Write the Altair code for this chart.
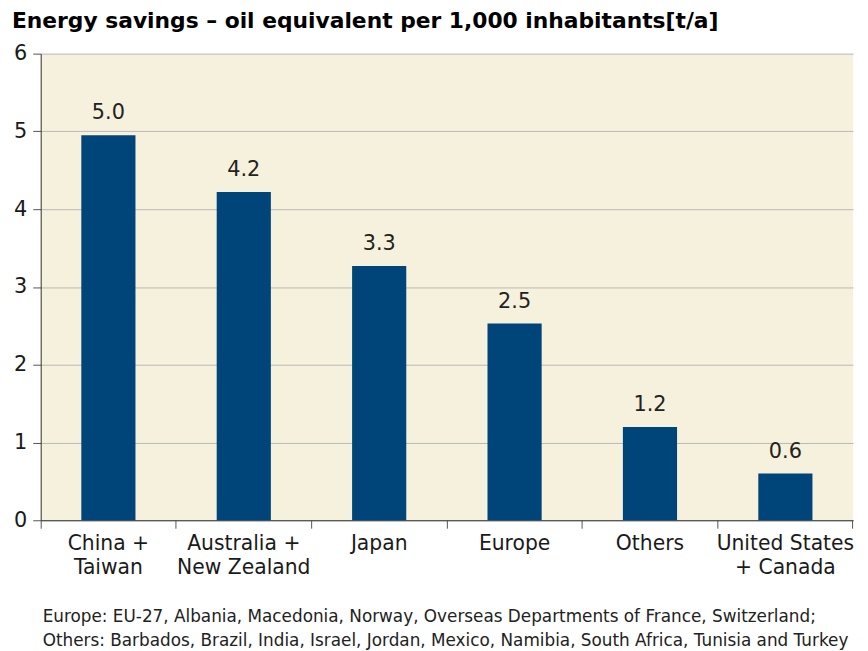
import altair as alt
import pandas as pd

categories = ["China +|Taiwan", "Australia +|New Zealand", "Japan", "Europe", "Others", "United States|+ Canada"]
values = [4.95, 4.22, 3.27, 2.53, 1.2, 0.6]
labels = ["5.0", "4.2", "3.3", "2.5", "1.2", "0.6"]
footnote_lines = [
    "Europe: EU-27, Albania, Macedonia, Norway, Overseas Departments of France, Switzerland;",
    "Others: Barbados, Brazil, India, Israel, Jordan, Mexico, Namibia, South Africa, Tunisia and Turkey",
]
title_text = "Energy savings \u2013 oil equivalent per 1,000 inhabitants[t/a]"

df = pd.DataFrame({"cat": categories, "value": values, "label": labels})
FONT = "DejaVu Sans"
W = 820

x_enc = alt.X("cat:N", sort=None, title=None,
              scale=alt.Scale(paddingInner=0, paddingOuter=0),
              axis=alt.Axis(labelExpr="split(datum.label, '|')", labelAngle=0,
                            labelFont=FONT, labelFontSize=20.5, labelColor="#1a1a1a",
                            labelLineHeight=24, labelPadding=6, tickSize=8,
                            bandPosition=1, tickExtra=True,
                            domainColor="#333333", tickColor="#555555",
                            labelBaseline="top"))
y_enc = alt.Y("value:Q", title=None,
              scale=alt.Scale(domain=[0, 6], nice=False),
              axis=alt.Axis(values=[0, 1, 2, 3, 4, 5, 6], format="d", labelFont=FONT,
                            labelFontSize=21, labelColor="#1a1a1a", tickSize=8, labelPadding=6,
                            gridColor="#B8B8B8", domainColor="#333333", tickColor="#555555"))

base = alt.Chart(df).encode(x=x_enc, y=y_enc)
bars = base.mark_bar(color="#00457A", width=alt.RelativeBandSize(0.4))
text = base.mark_text(font=FONT, fontSize=21, color="#222222", dy=-16,
                      baseline="alphabetic").encode(text="label:N")

foot = alt.Chart(pd.DataFrame({"t": ["\n".join(footnote_lines)]})).mark_text(
    font=FONT, fontSize=17, color="#222222", align="left", baseline="alphabetic",
    lineBreak="\n", lineHeight=24).encode(
    x=alt.value(2), y=alt.value(574), text="t:N")

chart = alt.layer(bars, text, foot).properties(
    width=W, height=471,
    autosize=alt.AutoSizeParams(type="none"),
    padding={"left": 33, "top": 43, "right": 7, "bottom": 140},
    title=alt.TitleParams(title_text, anchor="start", font=FONT, fontSize=22,
                          fontWeight="bold", color="#000000", dx=-29, offset=10,
                          frame="group"),
    background="white",
).configure_view(fill="#F6F1DC", stroke=None)

chart.save("out.html", embed_options={"renderer": "svg", "actions": False})
